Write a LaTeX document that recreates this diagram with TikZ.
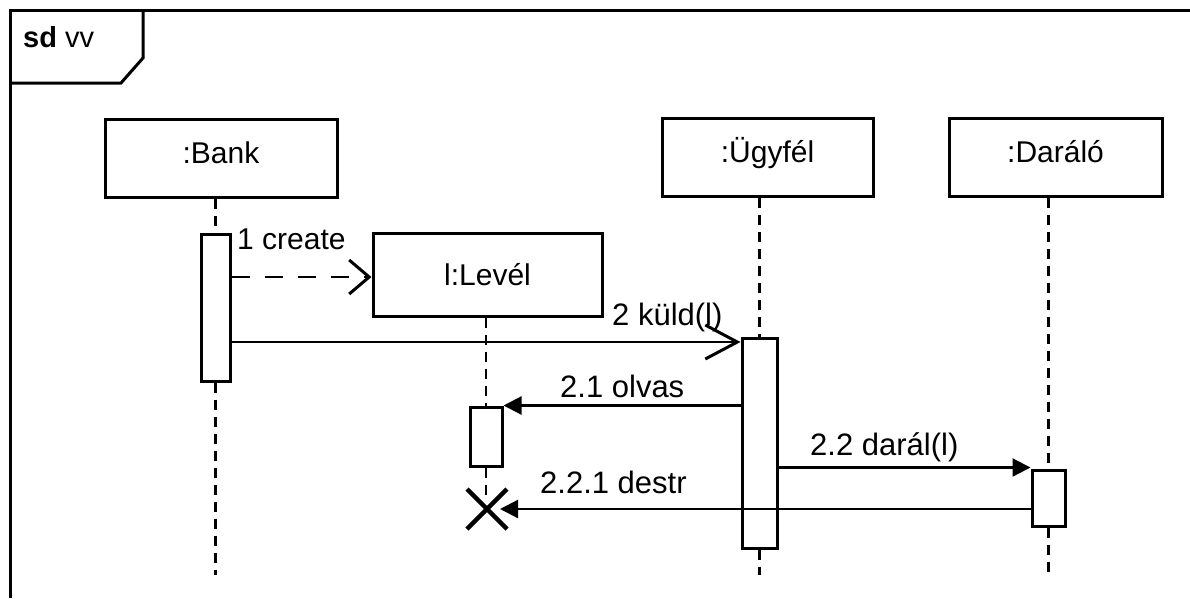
\documentclass[tikz,border=0pt]{standalone}
\usepackage{fontspec}
\setmainfont{Liberation Sans}
\usetikzlibrary{arrows.meta}
\begin{document}
\begin{tikzpicture}[x=1pt,y=-1pt,
  objbox/.style={draw,line width=3pt,fill=white,inner sep=0pt,font=\fontsize{30}{34}\selectfont},
  topbox/.style={objbox,minimum width=#1,minimum height=78pt,text height=22pt,text depth=13pt},
  actbar/.style={draw,line width=3pt,fill=white,inner sep=0pt},
  lifeline/.style={line width=2.6pt,dash pattern=on 10pt off 7pt},
  msglabel/.style={anchor=base west,inner sep=0pt,font=\fontsize{31}{35}\selectfont},
  syncmsg/.style={line width=2.2pt,-{Triangle[length=18pt,width=18pt]}},
  openmsg/.style={line width=2.2pt,-{Straight Barb[length=#1,width=34pt,line width=3pt]}},
  framestyle/.style={line width=3pt}
]
\useasboundingbox (0,0) rectangle (1190,598);
\fill[white] (0,0) rectangle (1190,598);

% frame
\draw[framestyle] (10,598) -- (10,10) -- (1190,10);
\draw[framestyle,line join=miter] (10,83) -- (121,83) -- (143,58) -- (143,10);
\node[anchor=base west,inner sep=0pt,font=\fontsize{29}{33}\selectfont] (sdlabel) at (23,47) {\textbf{sd} vv};

% object boxes
\node[topbox=232pt] (bank) at (221,158.5) {:Bank};
\node[topbox=211pt] (ugyfel) at (767.5,157.5) {:Ügyfél};
\node[topbox=213pt] (daralo) at (1055.5,157.5) {:Daráló};
\node[objbox,minimum width=229pt,minimum height=83pt,text height=22pt,text depth=1pt] (level) at (487.5,274.5) {l:Levél};

% reference levels
\coordinate (bottom) at (0,575);
\coordinate (xmark) at (487,509);
\coordinate (m2) at (0,342);

% activation bars (positions)
\node[actbar,minimum width=29pt,minimum height=147pt] (bankact) at (215.5,307.5) {};
\node[actbar,minimum width=32pt,minimum height=59pt] (levact) at (486,436.5) {};
\node[actbar,minimum width=35pt,minimum height=210pt] (ugyact) at (759.5,443) {};
\node[actbar,minimum width=33pt,minimum height=56pt] (daract) at (1048.5,498) {};

% lifelines
\draw[lifeline] (bankact.north |- bank.south) -- (bankact.north);
\draw[lifeline] (bankact.south) -- (bankact.south |- bottom);
\draw[lifeline] (levact.north |- level.south) -- (levact.north);
\draw[lifeline] (levact.south) -- ([yshift=14pt]levact.south |- xmark);
\draw[lifeline] (ugyact.north |- ugyfel.south) -- (ugyact.north);
\draw[lifeline] (ugyact.south) -- (ugyact.south |- bottom);
\draw[lifeline] (daract.north |- daralo.south) -- (daract.north);
\draw[lifeline] (daract.south) -- (daract.south |- bottom);

% redraw activation bars on top of lifelines
\node[actbar,minimum width=29pt,minimum height=147pt] at (bankact) {};
\node[actbar,minimum width=32pt,minimum height=59pt] at (levact) {};
\node[actbar,minimum width=35pt,minimum height=210pt] at (ugyact) {};
\node[actbar,minimum width=33pt,minimum height=56pt] at (daract) {};

% destruction mark
\draw[line width=4.5pt] ([shift={(-20,-20)}]xmark) -- ([shift={(20,20)}]xmark);
\draw[line width=4.5pt] ([shift={(-20,20)}]xmark) -- ([shift={(20,-20)}]xmark);

% messages
\draw[openmsg=20pt,line width=2.8pt,dash pattern=on 18pt off 15pt] ([yshift=-2.5pt]bankact.east |- level.west) -- ([yshift=-2.5pt]level.west);
\node[msglabel,font=\fontsize{30}{34}\selectfont] (l1) at (237,249) {1 create};

\draw[openmsg=32pt] (bankact.east |- m2) -- (ugyact.west |- m2);
\node[msglabel] (l2) at (612,325) {2 küld(l)};

\draw[syncmsg] (ugyact.west |- levact.north) -- (levact.north east);
\node[msglabel] (l21) at (560,397) {2.1 olvas};

\draw[syncmsg] ([yshift=1pt]ugyact.east |- daract.north) -- ([yshift=1pt]daract.north west);
\node[msglabel] (l22) at (810,455) {2.2 darál(l)};

\draw[syncmsg,shorten >=13pt] (daract.west |- xmark) -- (xmark);
\node[msglabel] (l221) at (540,493) {2.2.1 destr};
\end{tikzpicture}
\end{document}
